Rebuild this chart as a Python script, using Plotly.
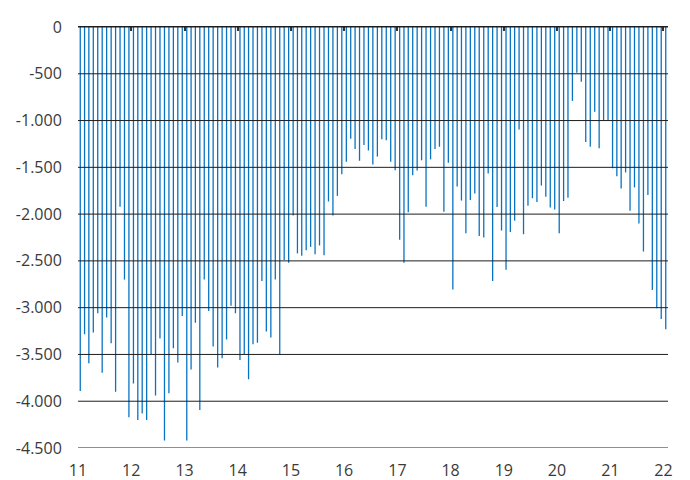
import pandas as pd
import plotly.graph_objects as go

# Monthly values, Jan 2011 - Jan 2022
months = pd.date_range("2011-01-01", periods=133, freq="MS")
values = [
    -3890, -3285, -3595, -3265, -3060, -3695, -3105, -3380, -3900, -1920, -2700, -4170,
    -3810, -4200, -4130, -4200, -3500, -3940, -3330, -4420, -3915, -3435, -3585, -3090,
    -4420, -3660, -3160, -4095, -2700, -3035, -3415, -3640, -3540, -3340, -2980, -3060,
    -3560, -3500, -3765, -3390, -3375, -2715, -3255, -3320, -2700, -3500, -2490, -2520,
    -2015, -2420, -2445, -2385, -2350, -2430, -2335, -2440, -1865, -2015, -1805, -1575,
    -1440, -1195, -1305, -1430, -1260, -1320, -1470, -1385, -1200, -1210, -1440, -1530,
    -2275, -2520, -1980, -1585, -1535, -1425, -1920, -1415, -1305, -1280, -1975, -1450,
    -2805, -1705, -1855, -2205, -1850, -1780, -2235, -2250, -1565, -2715, -1925, -2175,
    -2595, -2190, -2070, -1095, -2215, -1910, -1830, -1870, -1695, -1815, -1930, -1950,
    -2205, -1860, -1825, -790, -490, -585, -1230, -1280, -905, -1295, -1000, -1000,
    -1510, -1595, -1725, -1555, -1965, -1715, -2100, -2400, -1795, -2810, -3005, -3120,
    -3230,
]

y_ticks = [0, -500, -1000, -1500, -2000, -2500, -3000, -3500, -4000, -4500]
y_labels = ["0", "-500", "-1.000", "-1.500", "-2.000", "-2.500", "-3.000",
            "-3.500", "-4.000", "-4.500"]
years = list(range(2011, 2023))
x_labels = [str(y)[2:] for y in years]
x_tickvals = [f"{y}-01-01" for y in years]
x_range = ["2011-01-01", "2022-02-01"]

text_color = "#3a3a3a"
font_family = "Open Sans"

fig = go.Figure()
fig.add_trace(go.Bar(
    x=months, y=values,
    xperiod="M1", xperiodalignment="middle",
    marker=dict(color="rgba(8,114,194,0.999)", line=dict(width=0)),
    hoverinfo="skip", showlegend=False,
))
# helper trace so the top axis (tick marks on the zero line) is drawn
fig.add_trace(go.Scatter(
    x=months, y=values, xaxis="x2", mode="markers",
    marker=dict(opacity=0), hoverinfo="skip", showlegend=False,
))

for v in y_ticks:
    fig.add_shape(type="line", xref="paper", x0=0, x1=1, yref="y", y0=v, y1=v,
                  line=dict(color="#1e1e1e", width=1), layer="above")

# the page body adds an 8px offset, so the figure is sized to fit the window
fig.update_layout(
    width=682, height=472,
    margin=dict(l=70, r=22, t=19, b=32),
    paper_bgcolor="white", plot_bgcolor="white",
    bargap=0.70,
    showlegend=False,
    hovermode=False,
    font=dict(family=font_family, size=16, color=text_color),
    xaxis=dict(
        type="date", range=x_range, automargin=False,
        tickvals=x_tickvals, ticktext=x_labels,
        showgrid=False, showline=False, zeroline=False,
        ticks="outside", ticklen=8, tickcolor="rgba(0,0,0,0)",
        tickfont=dict(size=16, color=text_color, family=font_family),
    ),
    xaxis2=dict(
        type="date", range=x_range, overlaying="x", side="top", automargin=False,
        tickvals=x_tickvals, showticklabels=False,
        showgrid=False, zeroline=False,
        showline=True, linecolor="#1e1e1e", linewidth=1,
        ticks="inside", ticklen=4, tickwidth=1.5, tickcolor="#333333",
    ),
    yaxis=dict(
        range=[-4500, 0], automargin=False,
        tickvals=y_ticks, ticktext=y_labels,
        showgrid=False, zeroline=False, showline=False,
        ticks="outside", ticklen=12, tickcolor="rgba(0,0,0,0)",
        tickfont=dict(size=16, color=text_color, family=font_family),
    ),
)

fig.write_html("out.html")
